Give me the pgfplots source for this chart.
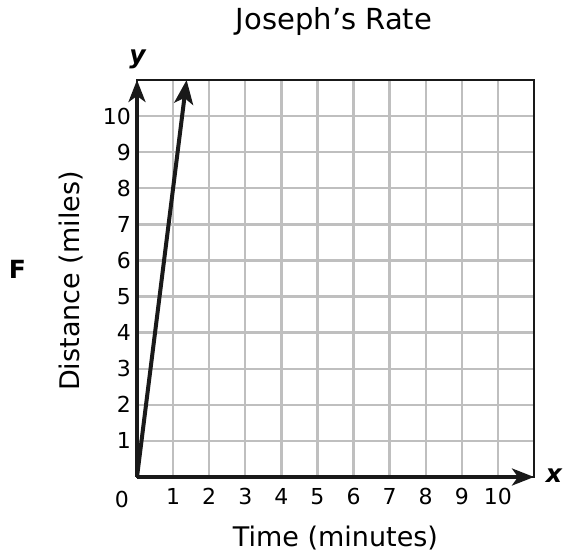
\documentclass[border=0pt]{standalone}
\usepackage{fontspec}
\setmainfont{DejaVu Sans}
\usepackage{pgfplots}
\pgfplotsset{compat=1.18}
\usetikzlibrary{arrows.meta}
\begin{document}
\begin{tikzpicture}[x=1pt,y=1pt]
\path[use as bounding box] (-137,-80) rectangle (426,477);
\begin{axis}[
  at={(0,0)}, anchor=south west,
  scale only axis, width=397pt, height=397pt,
  xmin=0, xmax=11, ymin=0, ymax=11,
  xtick={1,...,10}, ytick={1,...,10},
  major tick length=0pt,
  grid=major,
  grid style={line width=2.4pt, color=black!25},
  axis line style={line width=2.7pt, black!90},
  /pgf/number format/assume math mode=true,
  xticklabel style={font=\fontsize{22}{26}\selectfont, yshift=-8pt},
  yticklabel style={font=\fontsize{22}{26}\selectfont, xshift=-2.7pt},
  clip=false,
]
\draw[line width=3.5pt, black!90, -{Stealth[length=22pt,width=17pt,inset=6pt]}] (axis cs:0,0) -- (axis cs:0,11);
\draw[line width=3.5pt, black!90, -{Stealth[length=22pt,width=17pt,inset=6pt]}] (axis cs:0,0) -- (axis cs:11,0);
\addplot[line width=4pt, black!90, -{Stealth[length=24pt,width=19pt,inset=6pt]}] coordinates {(0,0) (1.375,11)};
\node[font=\fontsize{22}{26}\selectfont] at (axis cs:0,0) [xshift=-15pt, yshift=-22pt] {0};
\end{axis}
\node[anchor=base, font=\fontsize{29}{34}\selectfont] at (197,447) {Joseph’s Rate};
\node[anchor=base, font=\fontsize{27}{32}\selectfont] at (198.5,-70) {Time (minutes)};
\node[anchor=base, rotate=90, font=\fontsize{27}{32}\selectfont] at (-57,196) {Distance (miles)};
\node[anchor=base, font=\fontsize{25}{30}\selectfont\bfseries] at (-119.5,198.7) {F};
\node[anchor=base, font=\fontsize{25}{30}\selectfont\bfseries\itshape] at (0.5,413.7) {y};
\node[anchor=base, font=\fontsize{25}{30}\selectfont\bfseries\itshape] at (417,-6) {x};
\end{tikzpicture}
\end{document}
